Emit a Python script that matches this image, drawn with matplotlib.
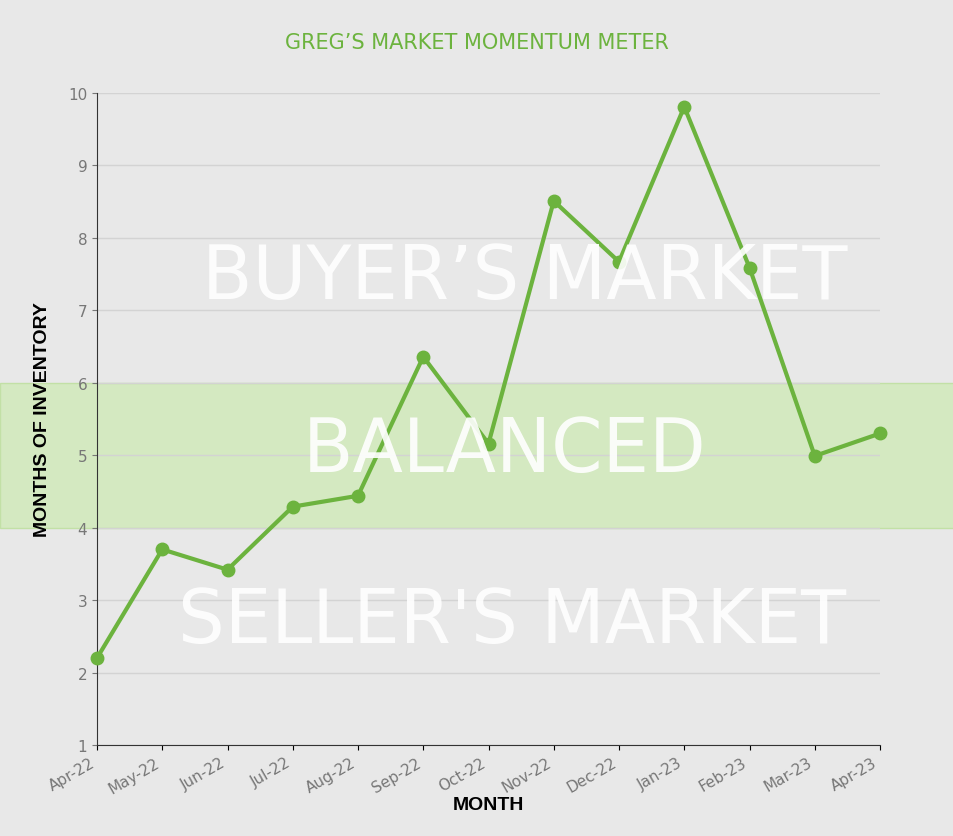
import matplotlib.pyplot as plt
import matplotlib.transforms as mtransforms
from matplotlib.patches import Rectangle

months = ["Apr-22", "May-22", "Jun-22", "Jul-22", "Aug-22", "Sep-22", "Oct-22",
          "Nov-22", "Dec-22", "Jan-23", "Feb-23", "Mar-23", "Apr-23"]
inventory = [2.2, 3.7, 3.42, 4.29, 4.44, 6.36, 5.16, 8.51, 7.67, 9.81, 7.59, 4.99, 5.3]

green = "#6cb33e"
bg = "#e8e8e8"

fig = plt.figure(figsize=(9.54, 8.37), dpi=100, facecolor=bg)
ax = fig.add_axes([97/954, 1-746/837, (880-97)/954, (746-94)/837])
ax.set_facecolor("none")

x = list(range(len(months)))
ax.set_xlim(0, len(months) - 1)
ax.set_ylim(1, 10)

# balanced band spans full figure width
trans = mtransforms.blended_transform_factory(fig.transFigure, ax.transData)
fig.add_artist(Rectangle((0, 4), 1, 2, transform=trans, facecolor="#d4e9c1",
                         edgecolor="#c2e0a6", lw=1, zorder=-1))

ax.yaxis.grid(True, color="#d3d3d3", lw=1)
ax.set_axisbelow(True)
for s in ["top", "right"]:
    ax.spines[s].set_visible(False)
ax.spines["left"].set_color("#333333")
ax.spines["bottom"].set_color("#333333")

ax.plot(x, inventory, color=green, lw=3, marker="o", markersize=9, zorder=5, clip_on=False)

ax.set_xticks(x)
ax.set_xticklabels(months, rotation=30, ha="right", color="#777777", fontsize=11)
ax.set_yticks(range(1, 11))
ax.tick_params(axis="y", colors="#777777", labelsize=11)

for label, cx, cy in [("BUYER\u2019S MARKET", 525, 278), ("BALANCED", 505, 452),
                      ("SELLER'S MARKET", 512, 622)]:
    fig.text(cx/954, 1-cy/837, label, fontsize=53, color="white", alpha=0.9,
             ha="center", va="center", zorder=1)

ax.set_ylabel("MONTHS OF INVENTORY", fontsize=14, fontweight="bold", labelpad=12,
              family="Liberation Sans")
ax.set_xlabel("MONTH", fontsize=14, fontweight="bold", labelpad=0,
              family="Liberation Sans")
fig.text(0.5, 1-43/837, "GREG\u2019S MARKET MOMENTUM METER", color=green,
         fontsize=15, ha="center", va="center")

fig.savefig("out.png", dpi=100, facecolor=bg)
